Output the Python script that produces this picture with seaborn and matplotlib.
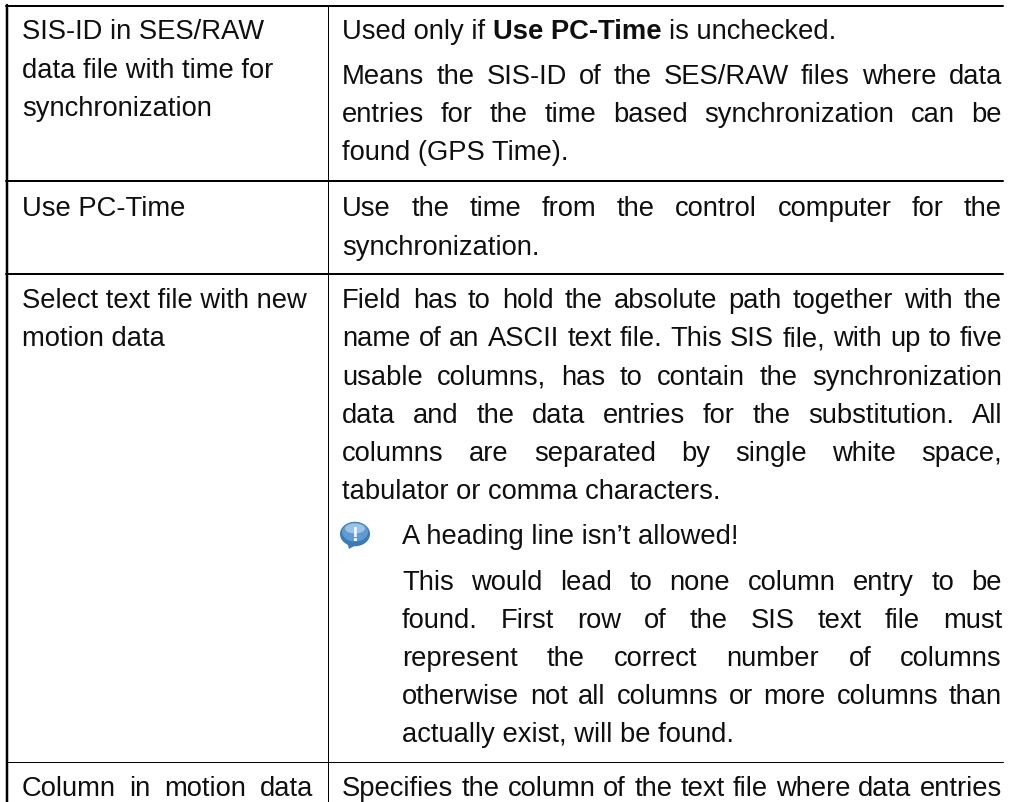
import matplotlib
matplotlib.use("Agg")
import matplotlib.pyplot as plt
from matplotlib.patches import Ellipse, Polygon
import seaborn as sns

# cell text
LEFT_LINES = [
    "SIS-ID in SES/RAW", "data file with time for", "synchronization",
    "Use PC-Time",
    "Select text file with new", "motion data",
    "Column in motion data",
]
RIGHT_LINES = [
    "Means the SIS-ID of the SES/RAW files where data",
    "entries for the time based synchronization can be",
    "found (GPS Time).",
    "Use the time from the control computer for the",
    "synchronization.",
    "Field has to hold the absolute path together with the",
    "name of an ASCII text file. This SIS file, with up to five",
    "usable columns, has to contain the synchronization",
    "data and the data entries for the substitution. All",
    "columns are separated by single white space,",
    "tabulator or comma characters.",
    "Specifies the column of the text file where data entries",
]
NOTE_HEAD = "A heading line isn\u2019t allowed!"
NOTE_LINES = [
    "This would lead to none column entry to be",
    "found. First row of the SIS text file must",
    "represent the correct number of columns",
    "otherwise not all columns or more columns than",
    "actually exist, will be found.",
]
FIRST_LINE = [("Used only if", "normal"), ("Use PC-Time", "bold"), ("is unchecked.", "normal")]

# lines that are not justified
LEFT_PLAIN = set(LEFT_LINES[:-1])
RIGHT_PLAIN = {"found (GPS Time).", "synchronization.", "tabulator or comma characters."}
NOTE_PLAIN = {"actually exist, will be found."}

# layout, in pixels of the 1010x803 page
LEFT_BASE = [39, 77.5, 116, 216, 308, 346.5, 796]
RIGHT_BASE = [83.5, 122, 160.5, 216, 255, 308, 346.5, 385, 423, 461, 499, 796]
NOTE_BASE = [590, 628, 666, 704, 742]
HEAD_BASE = 544.5
FIRST_BASE = 39
RULES_Y = [6.5, 181.5, 274.5, 762.5]
RULES_W = [2, 2, 2, 1]
COL_X = [7, 327.5]
COL_W = [2.5, 1]
LEFT_X, LEFT_END = 22, 313
RIGHT_X, RIGHT_END = 342, 1002
NOTE_X = 402
FONT_SIZE = 19.7
INK = "#0f0f0f"

sns.set_theme(style="white")
plt.rcParams["font.family"] = ["Liberation Sans", "DejaVu Sans"]

fig = plt.figure(figsize=(10.10, 8.03), dpi=100)
ax = fig.add_axes([0, 0, 1, 1])
ax.set_xlim(0, 1010)
ax.set_ylim(803, 0)
ax.axis("off")
rend = fig.canvas.get_renderer()


def put(x, y, s, weight="normal"):
    return ax.text(x, y, s, fontsize=FONT_SIZE, color=INK, weight=weight, va="baseline", ha="left")


def justified(x0, x1, y, line):
    words = line.split(" ")
    items = [put(x0, y, w) for w in words]
    widths = [t.get_window_extent(rend).width for t in items]
    gap = (x1 - x0 - sum(widths)) / (len(words) - 1)
    x = x0
    for t, w in zip(items, widths):
        t.set_x(x)
        x += w + gap


def write(lines, bases, x0, x1, plain):
    for line, y in zip(lines, bases):
        if line in plain:
            put(x0, y, line)
        else:
            justified(x0, x1, y, line)


# table rules
for y, w in zip(RULES_Y, RULES_W):
    sns.lineplot(x=[6, 1003], y=[y, y], color="black", linewidth=w * 0.72, ax=ax, estimator=None, legend=False)
for x, w in zip(COL_X, COL_W):
    sns.lineplot(x=[x, x], y=[6, 803], color="black", linewidth=w * 0.72, ax=ax, estimator=None, sort=False, legend=False)

write(LEFT_LINES, LEFT_BASE, LEFT_X, LEFT_END, LEFT_PLAIN)
write(RIGHT_LINES, RIGHT_BASE, RIGHT_X, RIGHT_END, RIGHT_PLAIN)
write(NOTE_LINES, NOTE_BASE, NOTE_X, RIGHT_END, NOTE_PLAIN)
put(NOTE_X, HEAD_BASE, NOTE_HEAD)

# first line mixes regular and bold
x = RIGHT_X
for s, weight in FIRST_LINE:
    t = put(x, FIRST_BASE, s, weight)
    x += t.get_window_extent(rend).width + FONT_SIZE * 100 / 72 * 0.278

# note icon
ax.add_patch(Polygon([(347, 543), (349, 550), (358, 545)], closed=True, color="#3f7db8", lw=0))
ax.add_patch(Ellipse((355, 535), 30, 24.5, color="#3c7ab6", lw=0))
ax.add_patch(Ellipse((355, 533), 26, 19, color="#5f9ad0", lw=0))
ax.add_patch(Ellipse((355, 529.5), 20, 10, color="#9cc3e4", lw=0))
ax.text(355, 541, "!", fontsize=15, color="#f2f7fb", weight="bold", ha="center", va="baseline")

ax.set_xlim(0, 1010)
ax.set_ylim(803, 0)
fig.savefig("out.png", dpi=100, facecolor="white")
plt.close(fig)
